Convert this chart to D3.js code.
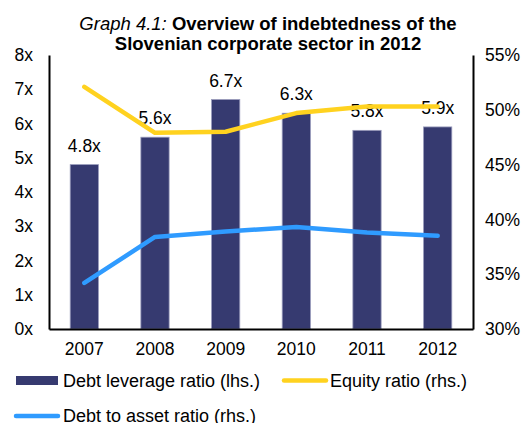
<!DOCTYPE html>
<html>
<head>
<meta charset="utf-8">
<script src="https://cdn.jsdelivr.net/npm/d3@7"></script>
<style>
  body { margin: 0; background: #fff; }
  svg { font-family: "Liberation Sans", Arial, sans-serif; }
</style>
</head>
<body>
<svg width="526" height="423"></svg>
<script>
const years = ["2007", "2008", "2009", "2010", "2011", "2012"];
const debtLeverage = [4.8, 5.6, 6.7, 6.3, 5.8, 5.9];
const equityRatio = [52.1, 47.9, 48.0, 49.7, 50.3, 50.3];
const debtToAsset = [34.2, 38.4, 38.9, 39.3, 38.8, 38.5];
const leftTicks = [0, 1, 2, 3, 4, 5, 6, 7, 8];
const rightTicks = [30, 35, 40, 45, 50, 55];

const margin = {top: 55, right: 53, bottom: 94, left: 49},
    width = 526 - margin.left - margin.right,
    height = 423 - margin.top - margin.bottom;

const barColor = "#363a70";
const yellow = "#ffd21f";
const blue = "#2f9bff";
const fontSize = "17.5px";

const svg = d3.select("svg");

// title
const title = svg.append("text")
    .attr("x", 268)
    .attr("y", 29.5)
    .attr("text-anchor", "middle")
    .attr("font-size", "18.5px")
title.append("tspan").attr("font-style", "italic").text("Graph 4.1: ")
title.append("tspan").attr("font-weight", "bold").text("Overview of indebtedness of the")
svg.append("text")
    .attr("x", 268)
    .attr("y", 50)
    .attr("text-anchor", "middle")
    .attr("font-size", "18.5px")
    .attr("font-weight", "bold")
    .text("Slovenian corporate sector in 2012")

const g = svg.append("g")
    .attr("transform", `translate(${margin.left}, ${margin.top})`)

const x = d3.scaleBand()
    .domain(years)
    .range([0, width])
    .paddingInner(0.6)
    .paddingOuter(0.3)

const yL = d3.scaleLinear().domain([0, 8]).range([height, 0])
const yR = d3.scaleLinear().domain([30, 55]).range([height, 0])

// bars
g.selectAll("rect.bar").data(debtLeverage).enter().append("rect")
    .attr("class", "bar")
    .attr("x", (d, i) => x(years[i]))
    .attr("y", d => yL(d))
    .attr("width", x.bandwidth())
    .attr("height", d => height - yL(d))
    .attr("fill", barColor)
    .attr("stroke", "#9a9cbc")
    .attr("stroke-width", 0.8)

// bar labels
g.selectAll("text.lbl").data(debtLeverage).enter().append("text")
    .attr("class", "lbl")
    .attr("x", (d, i) => x(years[i]) + x.bandwidth() / 2)
    .attr("y", d => yL(d) - 13)
    .attr("text-anchor", "middle")
    .attr("font-size", fontSize)
    .text(d => d.toFixed(1) + "x")

// lines
const cx = i => x(years[i]) + x.bandwidth() / 2;
const line = d3.line().x((d, i) => cx(i)).y(d => yR(d));

g.append("path")
    .datum(equityRatio)
    .attr("d", line)
    .attr("fill", "none")
    .attr("stroke", yellow)
    .attr("stroke-width", 4.5)
    .attr("stroke-linecap", "round")
    .attr("stroke-linejoin", "round")

g.append("path")
    .datum(debtToAsset)
    .attr("d", line)
    .attr("fill", "none")
    .attr("stroke", blue)
    .attr("stroke-width", 4.5)
    .attr("stroke-linecap", "round")
    .attr("stroke-linejoin", "round")

// axes
const axL = g.append("g")
    .call(d3.axisLeft(yL).tickValues(leftTicks).tickFormat(d => d + "x").tickSizeInner(0).tickSizeOuter(0).tickPadding(16))
const axR = g.append("g")
    .attr("transform", `translate(${width}, 0)`)
    .call(d3.axisRight(yR).tickValues(rightTicks).tickFormat(d => d + "%").tickSizeInner(0).tickSizeOuter(0).tickPadding(12))
const axB = g.append("g")
    .attr("transform", `translate(0, ${height})`)
    .call(d3.axisBottom(x).tickSizeInner(0).tickSizeOuter(0).tickPadding(14))

;[axL, axR, axB].forEach(a => {
    a.select(".domain").attr("stroke", "#000").attr("stroke-width", 2)
    a.selectAll("text").attr("font-size", fontSize).attr("fill", "#000")
        .attr("font-family", "Liberation Sans, Arial, sans-serif")
})

// legend
const leg = svg.append("g").attr("font-size", "18px")
leg.append("rect").attr("x", 16).attr("y", 376).attr("width", 42).attr("height", 9).attr("fill", barColor)
leg.append("text").attr("x", 63).attr("y", 387).text("Debt leverage ratio (lhs.)")
leg.append("line").attr("x1", 284).attr("x2", 326).attr("y1", 380.5).attr("y2", 380.5)
    .attr("stroke", yellow).attr("stroke-width", 4.5).attr("stroke-linecap", "round")
leg.append("text").attr("x", 330).attr("y", 387).text("Equity ratio (rhs.)")
leg.append("line").attr("x1", 16).attr("x2", 58).attr("y1", 416).attr("y2", 416)
    .attr("stroke", blue).attr("stroke-width", 4.5).attr("stroke-linecap", "round")
leg.append("text").attr("x", 63).attr("y", 422).text("Debt to asset ratio (rhs.)")
</script>
</body>
</html>
